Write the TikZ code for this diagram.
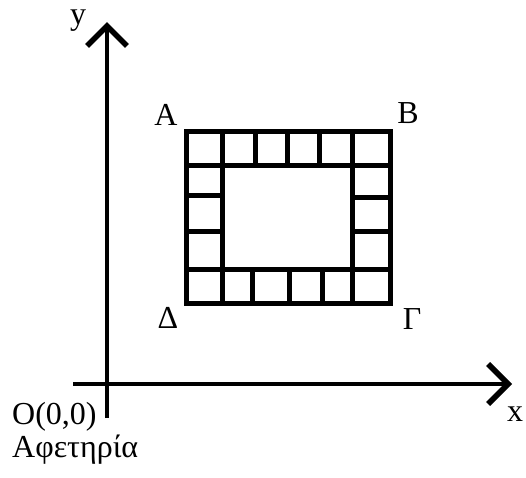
\documentclass[tikz,border=0pt]{standalone}
\usepackage{fontspec}
\setmainfont{Liberation Serif}
\usetikzlibrary{arrows.meta}
\begin{document}
\begin{tikzpicture}[x=1pt, y=-1pt, every node/.style={font=\fontsize{32}{38}\selectfont, inner sep=0pt},
  axis/.style={line width=4.5pt, -{Straight Barb[length=20pt, width=40pt, line width=5.5pt]}},
  tile/.style={line width=5pt}]
  \useasboundingbox (0,0) rectangle (526,477);
  % axes
  \coordinate (xs) at (73,384); \coordinate (xe) at (512,384);
  \coordinate (ys) at (107,418); \coordinate (ye) at (107,22);
  \draw[axis] (xs) -- (xe);
  \draw[axis] (ys) -- (ye);
  % frame of tiles
  \coordinate (A) at (186,131); \coordinate (B) at (390,131);
  \coordinate (G) at (390,303); \coordinate (D) at (186,303);
  \draw[tile] (A) rectangle (G);
  \foreach \x in {222.7,352.7} \draw[tile] (\x,131) -- (\x,303);
  \foreach \y in {165,269.3} \draw[tile] (186,\y) -- (390,\y);
  \foreach \x in {255.3,287.3,319.3} \draw[tile] (\x,131) -- (\x,165);
  \foreach \x in {252,289.3,322} \draw[tile] (\x,269.3) -- (\x,303);
  \foreach \y in {195,231.7} \draw[tile] (186,\y) -- (222.7,\y);
  \foreach \y in {197.3,231.7} \draw[tile] (352.7,\y) -- (390,\y);
  % labels
  \foreach \n/\txt/\p in {lA/A/{166,115}, lB/B/{408,113}, lG/Γ/{412,319}, lD/Δ/{168,318}, lx/x/{515,414}, ly/y/{78,21}}
    \node (\n) at (\p) {\txt};
  \node[anchor=base west] (lO) at (12,424) {O(0,0)};
  \node[anchor=base west] (lstart) at (12,457) {Αφετηρία};
\end{tikzpicture}
\end{document}
